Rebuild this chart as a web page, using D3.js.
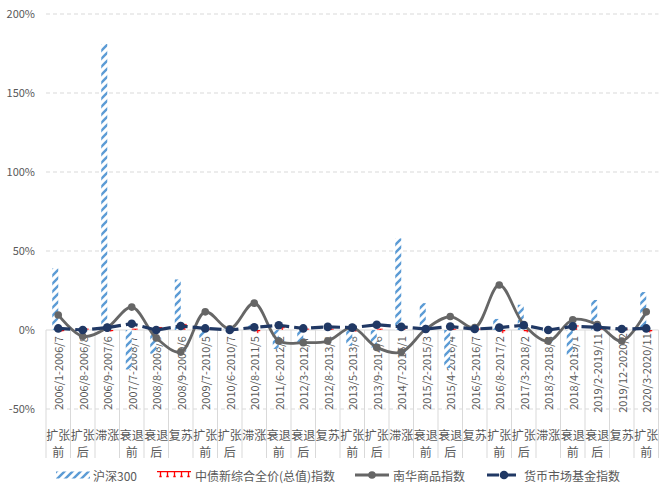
<!DOCTYPE html>
<html>
<head>
<meta charset="utf-8">
<script src="https://cdn.jsdelivr.net/npm/d3@7"></script>
<style>
body{margin:0;background:#fff}
text{font-family:"Microsoft YaHei","Noto Sans CJK SC",sans-serif;fill:#595959}
</style>
</head>
<body>
<div id="chart"></div>
<script>
// periods and phases
const periods=['2006/1-2006/7','2006/8-2006/8','2006/9-2007/6','2007/7-2008/7','2008/8-2008/8','2008/9-2009/6','2009/7-2010/5','2010/6-2010/7','2010/8-2011/5','2011/6-2012/2','2012/3-2012/7','2012/8-2013/4','2013/5-2013/8','2013/9-2014/6','2014/7-2015/1','2015/2-2015/3','2015/4-2016/4','2016/5-2016/7','2016/8-2017/2','2017/3-2018/2','2018/3-2018/3','2018/4-2019/1','2019/2-2019/11','2019/12-2020/2','2020/3-2020/11']
const phases=['扩张前','扩张后','滞涨','衰退前','衰退后','复苏','扩张前','扩张后','滞涨','衰退前','衰退后','复苏','扩张前','扩张后','滞涨','衰退前','衰退后','复苏','扩张前','扩张后','滞涨','衰退前','衰退后','复苏','扩张前']
// returns in %
const hs300=[39,1,181,-25,-15,32,-5,1,3,-12,-9,2,-10,-11,58,17,-24,1,7,16,-1,-16,19,1,24]
const bond=[-1,1,-1,1,2,4,1,1,-2,2,1,1,-1,1,2,1,1,1,-2,-1.5,1,3,1,1,-1.5]
const nanhua=[9.5,-4,1.5,14.5,-5,-14,11.5,0.8,17,-7,-8,-7,1.5,-11,-14,0.5,8.5,1.5,28.5,3.5,-7,6.5,3.5,-7,11.5]
const money=[1,0,1.5,4,0,2.5,1,0,1.7,3,1,2,1.5,3.3,2,0.6,2.2,0.6,1.5,3,0,2.3,1.8,0.6,1]
const yTicks=[-50,0,50,100,150,200]
const seriesNames=['沪深300','中债新综合全价(总值)指数','南华商品指数','货币市场基金指数']

let w=672,h=495
let svg=d3.select('#chart').append('svg').attr('width',w).attr('height',h)
let defs=svg.append('defs')
let hp=defs.append('pattern').attr('id','hatch').attr('patternUnits','userSpaceOnUse').attr('width',8).attr('height',8)
hp.append('rect').attr('width',8).attr('height',8).attr('fill','#fff')
hp.append('path').attr('d','M0,8L8,0M-2,2L2,-2M6,10L10,6').attr('stroke','#5B9BD5').attr('stroke-width',2.4)

let x=d3.scaleBand().domain(periods).range([46,658.5])
let y=d3.scaleLinear().domain([-50,200]).range([409,14])
let bw=x.bandwidth()
let x1=d3.scaleBand().domain(['hs300','bond']).range([bw/2-6,bw/2+6])

// red brick pattern, one per bar so it starts at each bar's top
function brick(id,px,py){
  let p=defs.append('pattern').attr('id',id).attr('patternUnits','userSpaceOnUse')
    .attr('x',px).attr('y',py).attr('width',7).attr('height',8)
  p.append('rect').attr('width',7).attr('height',8).attr('fill','#fff')
  p.append('path').attr('d','M0,0.7H7M3.5,0V5.5M2.3,5.5H4.7').attr('stroke','#FF0000').attr('stroke-width',1.3)
}
bond.forEach((d,i)=>brick('brick'+i,x(periods[i])+x1('bond'),y(Math.max(0,d))))

// gridlines
svg.append('g').selectAll('line').data(yTicks.filter(d=>d!==0)).enter().append('line')
  .attr('x1',46).attr('x2',658.5).attr('y1',d=>y(d)).attr('y2',d=>y(d))
  .attr('stroke','#D9D9D9').attr('stroke-dasharray','4,3')

let yAxis=d3.axisLeft(y).tickValues(yTicks).tickSize(0).tickPadding(11).tickFormat(d=>d+'%')
svg.append('g').attr('transform','translate(46,0)').call(yAxis)
  .call(g=>g.select('.domain').remove())
  .selectAll('text').style('font-size','11px').style('font-family','"Microsoft YaHei","Noto Sans CJK SC",sans-serif').attr('fill','#595959')

// category separators and axis
svg.append('g').selectAll('line').data(periods.concat(['end'])).enter().append('line')
  .attr('x1',d=>d==='end'?658.5:x(d)).attr('x2',d=>d==='end'?658.5:x(d))
  .attr('y1',y(0)).attr('y2',458).attr('stroke','#D9D9D9')
svg.append('line').attr('x1',46).attr('x2',658.5).attr('y1',y(0)).attr('y2',y(0)).attr('stroke','#D9D9D9')

// labels
svg.append('g').selectAll('text').data(periods).enter().append('text')
  .attr('transform',d=>'translate('+(x(d)+bw/2)+',373) rotate(-90)')
  .attr('text-anchor','middle').attr('dominant-baseline','central')
  .style('font-size','11px').text(d=>d)
let ph=svg.append('g').selectAll('text').data(phases).enter().append('text')
  .attr('x',(d,i)=>x(periods[i])+bw/2).attr('text-anchor','middle').style('font-size','12px')
ph.append('tspan').attr('x',(d,i)=>x(periods[i])+bw/2).attr('y',440).text(d=>d.slice(0,2))
ph.append('tspan').attr('x',(d,i)=>x(periods[i])+bw/2).attr('y',457).text(d=>d.slice(2))

// bars
svg.append('g').selectAll('rect').data(hs300).enter().append('rect')
  .attr('x',(d,i)=>x(periods[i])+x1('hs300')).attr('width',x1.bandwidth())
  .attr('y',d=>y(Math.max(0,d))).attr('height',d=>Math.abs(y(d)-y(0)))
  .attr('fill','url(#hatch)')
svg.append('g').selectAll('rect').data(bond).enter().append('rect')
  .attr('x',(d,i)=>x(periods[i])+x1('bond')).attr('width',x1.bandwidth())
  .attr('y',d=>y(Math.max(0,d))).attr('height',d=>Math.abs(y(d)-y(0)))
  .attr('fill',(d,i)=>'url(#brick'+i+')')

// lines
let cx=(d,i)=>x(periods[i])+bw/2
let grayLine=d3.line().x(cx).y(d=>y(d)).curve(d3.curveCatmullRom)
svg.append('path').attr('d',grayLine(nanhua)).attr('fill','none').attr('stroke','#666666').attr('stroke-width',2.8)
svg.append('g').selectAll('circle').data(nanhua).enter().append('circle')
  .attr('cx',cx).attr('cy',d=>y(d)).attr('r',3.8).attr('fill','#666666')
let blueLine=d3.line().x(cx).y(d=>y(d))
svg.append('path').attr('d',blueLine(money)).attr('fill','none').attr('stroke','#203864').attr('stroke-width',3.2).attr('stroke-dasharray','12,5')
svg.append('g').selectAll('circle').data(money).enter().append('circle')
  .attr('cx',cx).attr('cy',d=>y(d)).attr('r',4.3).attr('fill','#203864')

// legend
let lx=[56,157,355,487], tx=[93,195,393,524], ly=475
let lg=svg.append('g')
lg.append('rect').attr('x',lx[0]).attr('y',ly-3.5).attr('width',34).attr('height',7).attr('fill','url(#hatch)')
brick('brickLegend',lx[1],ly-4)
lg.append('rect').attr('x',lx[1]).attr('y',ly-4).attr('width',34).attr('height',7).attr('fill','url(#brickLegend)')
lg.append('line').attr('x1',lx[2]).attr('x2',lx[2]+34).attr('y1',ly).attr('y2',ly).attr('stroke','#666666').attr('stroke-width',2.8)
lg.append('circle').attr('cx',lx[2]+17).attr('cy',ly).attr('r',3.8).attr('fill','#666666')
lg.append('line').attr('x1',lx[3]).attr('x2',lx[3]+34).attr('y1',ly).attr('y2',ly).attr('stroke','#203864').attr('stroke-width',3.2).attr('stroke-dasharray','12,5')
lg.append('circle').attr('cx',lx[3]+17).attr('cy',ly).attr('r',4.3).attr('fill','#203864')
lg.selectAll('text').data(seriesNames).enter().append('text')
  .attr('x',(d,i)=>tx[i]).attr('y',ly).attr('dominant-baseline','central')
  .style('font-size','12px').text(d=>d)
</script>
</body>
</html>
